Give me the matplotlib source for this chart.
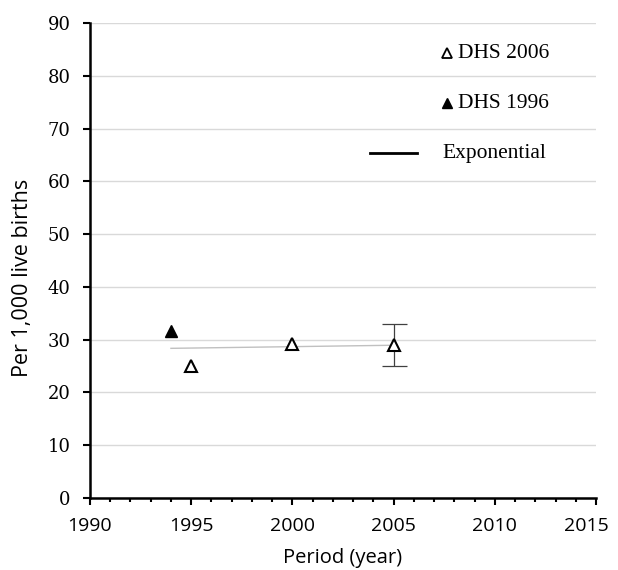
import numpy as np
import matplotlib
matplotlib.use("Agg")
import matplotlib.pyplot as plt
from matplotlib.transforms import ScaledTranslation

# data
dhs2006_year = [1995, 2000, 2005]
dhs2006_rate = [25.0, 29.2, 29.0]
err_year = [2005]
err_rate = [29.0]
err_lo = [3.9]
err_hi = [4.0]
dhs1996_year = [1994]
dhs1996_rate = [31.6]

x_ticks = [1990, 1995, 2000, 2005, 2010, 2015]
y_ticks = [0, 10, 20, 30, 40, 50, 60, 70, 80, 90]

SERIF = ['Liberation Serif', 'DejaVu Serif']
plt.rcParams['font.family'] = ['Open Sans', 'DejaVu Sans']

fig = plt.figure(figsize=(6.18, 5.70), dpi=100)
ax = fig.add_axes([0.1456, 0.1263, 0.9644 - 0.1456, 0.9596 - 0.1263])

# exponential trendline fitted to all points
all_x = np.array(dhs1996_year + dhs2006_year, dtype=float)
all_y = np.array(dhs1996_rate + dhs2006_rate)
b, a = np.polyfit(all_x, np.log(all_y), 1)
tx = np.linspace(all_x.min(), all_x.max(), 50)
ax.plot(tx, np.exp(a + b * tx), color='#c0c0c0', lw=1.0, zorder=2)

ax.errorbar(err_year, err_rate, yerr=[err_lo, err_hi], fmt='none',
            ecolor='#404040', elinewidth=0.9, capsize=9, capthick=0.9, zorder=3)
ax.plot(dhs2006_year, dhs2006_rate, linestyle='none', marker='^', markersize=8.5,
        markerfacecolor='white', markeredgecolor='black', markeredgewidth=1.5, zorder=4)
ax.plot(dhs1996_year, dhs1996_rate, linestyle='none', marker='^', markersize=8.5,
        markerfacecolor='black', markeredgecolor='black', zorder=4)

ax.set_xlim(1990, 2015)
ax.set_ylim(0, 90)
ax.set_xticks(x_ticks)
ax.set_xticks(range(1990, 2016), minor=True)
ax.set_yticks(y_ticks)
ax.yaxis.grid(True, color='#d9d9d9', lw=1.0)
ax.set_axisbelow(True)

for s in ['top', 'right']:
    ax.spines[s].set_visible(False)
for s in ['left', 'bottom']:
    ax.spines[s].set_linewidth(1.8)
    ax.spines[s].set_color('black')

ax.tick_params(axis='both', which='major', direction='out', length=5, width=1.5,
               colors='black')
ax.tick_params(axis='x', which='minor', direction='out', length=3, width=1.5)
ax.tick_params(axis='x', which='major', labelsize=14, pad=9)
ax.tick_params(axis='y', which='minor', left=False)
ax.tick_params(axis='y', which='major', labelsize=13, pad=9)
for lab in ax.get_yticklabels():
    lab.set_family(['DejaVu Serif'])
# Excel nudges the last x label inside the picture
last = ax.get_xticklabels()[-1]
last.set_transform(last.get_transform() + ScaledTranslation(-10 / 100, 0, fig.dpi_scale_trans))

ax.set_xlabel('Period (year)', fontsize=14.5)
ax.set_ylabel('Per 1,000 live births', fontsize=15.5)
ax.xaxis.set_label_coords(0.5, -0.106)
ax.yaxis.set_label_coords(-0.113, 0.463)

# legend drawn in axes coordinates, like the Excel one
leg_y = [0.936, 0.831, 0.726]
ax.plot([0.7055], [leg_y[0]], transform=ax.transAxes, clip_on=False, linestyle='none',
        marker='^', markersize=7.5, markerfacecolor='white', markeredgecolor='black',
        markeredgewidth=1.3)
ax.plot([0.7055], [leg_y[1]], transform=ax.transAxes, clip_on=False, linestyle='none',
        marker='^', markersize=7.5, markerfacecolor='black', markeredgecolor='black')
ax.plot([0.553, 0.646], [leg_y[2], leg_y[2]], transform=ax.transAxes, clip_on=False,
        color='black', lw=2)
ax.text(0.727, leg_y[0], 'DHS 2006', transform=ax.transAxes, va='center',
        family=SERIF, fontsize=15.5)
ax.text(0.727, leg_y[1], 'DHS 1996', transform=ax.transAxes, va='center',
        family=SERIF, fontsize=15.5)
ax.text(0.6957, leg_y[2], 'Exponential', transform=ax.transAxes, va='center',
        family=SERIF, fontsize=15.5)

fig.savefig('out.png', dpi=100)
